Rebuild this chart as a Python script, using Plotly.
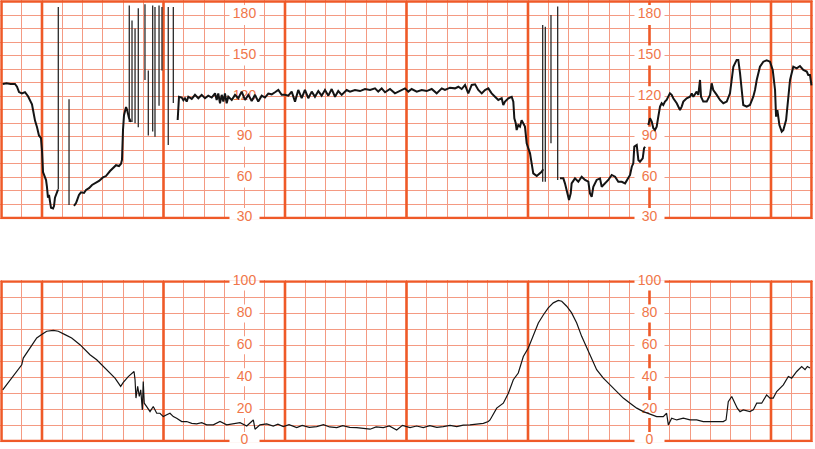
import plotly.graph_objects as go

# ---------------- data (time in seconds, 20 s per small square) ----------------
fhr_time = [
    1.2, 5.0, 9.0, 13.3, 15.3, 17.3, 20.2, 23.2, 26.2, 28.1, 30.1, 31.1, 33.1, 35.1, 37.0, 39.0,
    40.0, 41.0, 43.0, 44.0, 44.9, 45.9, 46.9, 47.9, 48.9, 50.9, 51.9, 52.8, 53.8, 54.8, 55.8,
    None,
    71.6, 73.6, 74.6, 76.5, 78.5, 81.5, 83.5, 86.4, 89.4, 93.3, 96.3, 100.2, 103.2, 107.2, 110.1,
    113.1, 116.1, 118.0, 119.0, 119.2, 120.0, 121.0, 123.0, 124.0, 124.9, 125.9, 127.9,
    None,
    174.0, 175.3, 178.0, 179.6, 181.2, 182.9, 184.5, 187.9, 191.1, 194.4, 197.7, 201.0, 204.2,
    207.6, 210.9, 212.5, 214.1, 215.8, 217.5, 219.1, 220.7, 222.4, 224.0, 227.4, 230.6, 233.9,
    237.2, 240.5, 243.8, 247.1, 250.4, 253.6, 257.0, 260.2, 263.5, 266.9, 270.1, 273.4, 276.7,
    280.0, 283.3, 286.6, 289.9, 293.1, 296.5, 299.7, 303.0, 306.4, 309.6, 312.9, 316.2, 319.5,
    322.8, 326.1, 329.4, 332.6, 336.0, 340.9, 344.2, 349.1, 354.1, 359.0, 364.0, 368.9, 372.1,
    375.5, 378.8, 383.7, 388.6, 393.6, 398.5, 401.8, 405.1, 410.1, 415.0, 419.9, 424.9, 429.8,
    434.8, 438.0, 443.0, 447.9, 451.2, 454.5, 457.8, 461.0, 464.4, 467.7, 470.9, 474.3, 477.5,
    480.8, 484.1, 487.4, 490.7, 494.0, 495.6, 497.3, 500.6, 503.9, 505.5, 506.5, 507.9, 508.8,
    510.4, 512.1, 513.7, 517.0, 518.7, 520.3, 522.0, 523.6, 525.2, 528.6, 533.5, 535.0,
    None,
    551.6, 554.9, 556.5, 558.2, 560.5, 562.2, 563.1, 566.4, 569.7, 573.0, 576.3, 579.6, 581.2,
    582.9, 584.5, 587.8, 591.1, 592.8, 596.1, 599.3, 602.7, 606.0, 609.2, 612.6, 615.9, 619.1,
    620.8, 622.5, 624.0, 625.0, 627.4, 629.0, 630.6, 633.3, 634.6, 635.6,
    None,
    638.8, 640.5, 642.2, 643.8, 645.4, 647.1, 648.7, 650.4, 652.0, 653.6, 655.3, 656.9, 660.2,
    661.9, 663.5, 666.9, 670.1, 671.8, 673.4, 676.7, 680.0, 681.7, 683.3, 686.6, 688.2, 689.9,
    690.9, 693.1, 696.5, 699.8, 701.4, 703.0, 706.4, 709.6, 712.9, 716.3, 719.5, 721.2, 722.8,
    726.1, 727.7, 729.4, 731.0, 732.6, 736.0, 739.2, 742.5, 744.2, 745.9, 749.1, 752.4, 755.7,
    759.0, 761.7, 764.0, 765.0, 766.3, 768.3, 770.6, 772.2, 774.9, 777.1, 778.8, 782.0, 785.4,
    788.6, 791.9, 795.3, 796.8, 798.5, 800.0,
]
fhr_bpm = [
    129, 129.5, 129, 129, 127, 123, 122, 123, 120, 117, 114, 110, 102, 97, 91, 89,
    80, 64, 60, 58, 53, 45, 47, 40, 37.5, 37, 39, 45, 47, 49, 51,
    None,
    39, 41, 43, 47, 49, 48.5, 50.7, 52, 54.4, 56, 57.4, 60, 61, 64.7, 67,
    69, 68.4, 70, 73, 87.6, 95, 106, 112, 110, 107.6, 104, 101,
    None,
    102.4, 119.6, 119, 117, 118.5, 116, 119.6, 118, 121, 118.5, 121, 118.5, 120.4,
    119, 122.1, 117.2, 122, 114.8, 121, 116, 122, 114.8, 119.6, 117.2, 121, 118.5,
    123.4, 117.2, 121, 116.5, 121, 116, 120.4, 119, 122, 121.4, 122.9, 124.6, 121,
    121, 120.4, 123.4, 116, 124.6, 118.5, 124.6, 118.5, 123.4, 119.6, 123.8, 120.4, 124.6,
    120.4, 125.3, 119.6, 123.8, 121, 124.6, 123.4, 124.6, 123.8, 125.3, 124.6, 125.8, 123.4,
    125.8, 122.9, 125.3, 122.1, 123.8, 125.8, 123.4, 125.3, 123.4, 124.6, 123.8, 125.3, 122.1,
    125.8, 124.6, 126.3, 125.8, 127, 125.3, 128.3, 122.1, 128.3, 128.8, 124.6, 122.1, 124.6,
    125.8, 122.1, 119.6, 117.2, 118.5, 113.5, 116, 118.5, 119.6, 116, 103.7, 100, 95,
    98.7, 97.5, 102.2, 97.5, 85.2, 81.5, 77.8, 70.4, 63, 61, 64.2, 66,
    None,
    59.3, 59.3, 55.6, 49.4, 43.3, 48.2, 55.6, 59.3, 56.8, 60.5, 58.1, 56.8, 48.2,
    45.7, 53.1, 58.1, 59.3, 53.1, 55.6, 58.1, 61.8, 60.5, 56.8, 56.8, 55.6, 59.3,
    61.8, 67.9, 70.4, 82.7, 83.9, 72.9, 71.6, 74.1, 81.5, 82.7,
    None,
    98.7, 103.7, 101.2, 96.3, 95, 97.5, 104.9, 112.3, 114.8, 113.5, 116, 117.2, 122.1,
    121, 118.5, 114.8, 109.8, 112.3, 116, 118.5, 119.6, 122.1, 119.6, 123.4, 121, 132,
    119.6, 116, 116, 121, 129.5, 124.6, 121, 117.2, 114.8, 116, 122.1, 132, 141.8,
    146.8, 146.8, 137.1, 122.1, 113.5, 112.3, 113.5, 119.6, 124.6, 132, 141.8, 145.5, 146.5,
    145.5, 139.4, 124.6, 104.9, 109.8, 98.7, 93.8, 95, 102.4, 117.2, 132, 141.8, 140.6,
    142.3, 139.4, 138.2, 135.7, 135.7, 128,
]

# signal-loss artefact strokes of the FHR pen
spike_time = [56.1, 66.7, 126.2, 128.9, 131.9, 135.1, 141.7, 145.0, 149.3, 151.6, 155.6,
              158.5, 164.7, 169.7, 534.5, 537.1, 542.7, 549.3]
spike_low = [51, 39.6, 101, 101, 100, 97, 132, 91, 94, 90, 113, 139, 84, 115, 56.8, 56.8, 85.2, 58.1]
spike_high = [186, 117.7, 187, 176, 170, 185, 188, 139, 187, 186, 187, 186, 186, 186,
              172.6, 171.4, 180, 186.2]

ua_time = [
    1.2, 5.1, 10.1, 15.0, 20.0, 21.5, 24.9, 29.8, 34.8, 39.7, 44.6, 51.2, 56.1, 62.7, 69.3,
    77.5, 82.5, 87.4, 94.0, 100.5, 107.2, 112.1, 117.7, 120.3, 125.2, 129.6, 130.9, 131.9,
    132.8, 134.5, 136.1, 137.5, 139.1, 140.0, 141.0, 143.4, 146.7, 149.9, 153.3, 156.5, 159.8,
    163.2, 166.4, 169.7, 173.0, 178.0, 182.9, 187.9, 192.8, 197.7, 202.7, 209.2, 215.8, 222.4,
    229.0, 235.6, 242.2, 248.7, 250.4, 255.3, 261.9, 268.4, 273.0, 278.3, 284.0, 291.6, 297.0,
    304.0, 311.3, 318.0, 324.0, 331.1, 337.0, 344.0, 350.8, 357.3, 364.0, 370.0, 377.1, 383.0,
    390.3, 396.0, 403.5, 410.0, 416.6, 423.0, 430.0, 436.3, 443.0, 449.6, 456.0, 462.7, 469.0,
    475.9, 480.8, 482.5, 489.1, 495.6, 500.6, 505.5, 510.4, 515.4, 520.3, 525.2, 530.2, 535.1,
    540.0, 545.0, 549.9, 553.3, 558.2, 563.1, 568.1, 573.0, 578.0, 582.9, 587.8, 594.4, 601.0,
    607.6, 614.1, 620.8, 627.4, 634.0, 640.5, 647.1, 653.6, 656.9, 658.6, 661.9, 666.9, 673.4,
    680.0, 686.6, 693.1, 699.8, 706.4, 712.9, 715.6, 717.8, 721.2, 724.4, 726.7, 729.4, 732.6,
    739.2, 742.5, 745.9, 750.8, 755.7, 759.0, 762.2, 765.6, 772.2, 777.1, 780.4, 785.4, 790.3,
    793.6, 795.9, 798.5,
]
ua_mmhg = [
    32.1, 35.2, 39.4, 43.6, 47.8, 52, 55.2, 59.3, 64.6, 66.7, 68.8, 69.4, 68.8, 66.7, 64.6,
    60.4, 57.2, 54.1, 50.9, 46.7, 42.6, 39.4, 34.2, 36.7, 40.4, 42.6, 43.6, 38.4,
    26.9, 34.2, 27.9, 32.1, 19.5, 37.3, 23.7, 21.6, 18.4, 21.6, 17.4, 17.4, 15.3,
    16.4, 17.4, 15.3, 14.3, 12.2, 12.2, 11.1, 10.7, 11.5, 10.1, 10.1, 12.2, 10.1,
    10.7, 11.5, 9.4, 13.2, 7.4, 10.1, 10.7, 9.4, 10.5, 9, 10.2, 8.4, 9.8,
    8.6, 9, 10.2, 8.8, 8.4, 9.6, 8.6, 8.4, 8, 7.4, 8.8, 8.4, 9.4,
    6.9, 9.8, 8.4, 9.4, 8.4, 9.6, 8.6, 9, 9.8, 9, 10, 10.1, 10.8,
    11.1, 12.2, 13.2, 20.6, 23.7, 30, 38.4, 42.6, 53, 58.3, 65.6, 74, 79,
    83.5, 86.6, 88.1, 87.6, 84.5, 80.3, 74, 65.6, 58.3, 50.9, 44.7, 39.4, 35.2,
    31, 26.9, 23.7, 20.6, 18.4, 17, 15.3, 15.3, 17.4, 10.1, 14.3, 13.2, 14.3,
    13.2, 13.2, 12.2, 12.2, 12.2, 12.2, 13.2, 24.7, 27.9, 23.7, 20.6, 18.4, 19.5,
    18.4, 19.5, 23.7, 23.7, 28.9, 26.9, 26.9, 31, 35.2, 40.4, 39.4, 43.6, 46.7,
    44.7, 46.7, 45.7,
]

fhr_labels = [30, 60, 90, 120, 150, 180]
ua_labels = [0, 20, 40, 60, 80, 100]
label_columns = [240, 640]

# ---------------- style / geometry ----------------
W, H = 815, 449
THICK = '#EF5A28'
THIN = '#F49A82'
TEXT = '#F0764A'
FONT = 'Liberation Sans, Arial, Helvetica, sans-serif'
T_MAX = 800
X0_PX, PX_PER_S = 1.5, 810 / 800
PAD = 1.35
BORDER_W = 2.6


def x_geom():
    left = X0_PX - PAD
    right = X0_PX + T_MAX * PX_PER_S + PAD
    return [(left - X0_PX) / PX_PER_S, (right - X0_PX) / PX_PER_S], [left / W, right / W]


def y_geom(vmin, vmax, py_min, py_max):
    k = (py_min - py_max) / (vmax - vmin)
    return ([vmin - PAD / k, vmax + PAD / k],
            [1 - (py_min + PAD) / H, 1 - (py_max - PAD) / H], k)


xr, xd = x_geom()
y1r, y1d, k1 = y_geom(30, 190, 218.0, 1.47)
y2r, y2d, k2 = y_geom(0, 100, 441.0, 281.5)

fig = go.Figure()

# scale labels (drawn beneath the traces)
for col in label_columns:
    fig.add_trace(go.Scatter(x=[col] * len(fhr_labels), y=fhr_labels,
                             text=[str(v) for v in fhr_labels], mode='text',
                             textfont=dict(family=FONT, size=14, color=TEXT),
                             cliponaxis=False, hoverinfo='skip', showlegend=False,
                             xaxis='x', yaxis='y'))
    fig.add_trace(go.Scatter(x=[col] * len(ua_labels), y=ua_labels,
                             text=[str(v) for v in ua_labels], mode='text',
                             textfont=dict(family=FONT, size=14, color=TEXT),
                             cliponaxis=False, hoverinfo='skip', showlegend=False,
                             xaxis='x2', yaxis='y2'))

# artefact strokes
sx, sy = [], []
for t, lo, hi in zip(spike_time, spike_low, spike_high):
    sx += [t, t, None]
    sy += [lo, hi, None]
fig.add_trace(go.Scatter(x=sx, y=sy, mode='lines', line=dict(color='#2a2a2a', width=1.3),
                         hoverinfo='skip', showlegend=False, xaxis='x', yaxis='y'))

fig.add_trace(go.Scatter(x=fhr_time, y=fhr_bpm, mode='lines', connectgaps=False,
                         line=dict(color='#141414', width=2.0),
                         showlegend=False, xaxis='x', yaxis='y'))
fig.add_trace(go.Scatter(x=ua_time, y=ua_mmhg, mode='lines',
                         line=dict(color='#141414', width=1.2),
                         showlegend=False, xaxis='x2', yaxis='y2'))

# heavy lines: borders and 2-minute lines, then white label boxes
shapes = []
panels = [('x', 'y', 30, 190, fhr_labels, 10 / k1),
          ('x2', 'y2', 0, 100, ua_labels, 9 / k2)]
for xa, ya, lo, hi, labs, half_h in panels:
    for t in range(40, T_MAX, 120):
        shapes.append(dict(type='line', xref=xa, yref=ya, x0=t, x1=t, y0=lo, y1=hi,
                           line=dict(color=THICK, width=BORDER_W), layer='between'))
    shapes.append(dict(type='rect', xref=xa, yref=ya, x0=0, x1=T_MAX, y0=lo, y1=hi,
                       line=dict(color=THICK, width=BORDER_W), fillcolor='rgba(0,0,0,0)',
                       layer='between'))
for xa, ya, lo, hi, labs, half_h in panels:
    half_w = 15 / PX_PER_S
    for col in label_columns:
        for v in labs:
            shapes.append(dict(type='rect', xref=xa, yref=ya, x0=col - half_w, x1=col + half_w,
                               y0=v - half_h, y1=v + half_h, fillcolor='white',
                               line=dict(width=0), layer='between'))

axis_common = dict(showticklabels=False, ticks='', zeroline=False, showline=False,
                   showgrid=True, gridcolor=THIN, gridwidth=1, fixedrange=True)

fig.update_layout(
    width=W, height=H,
    margin=dict(l=0, r=0, t=0, b=0),
    paper_bgcolor='white', plot_bgcolor='white',
    showlegend=False,
    xaxis=dict(domain=xd, range=xr, tick0=0, dtick=20, anchor='y', **axis_common),
    yaxis=dict(domain=y1d, range=y1r, tick0=0, dtick=10, anchor='x', **axis_common),
    xaxis2=dict(domain=xd, range=xr, tick0=0, dtick=20, anchor='y2', **axis_common),
    yaxis2=dict(domain=y2d, range=y2r, tick0=0, dtick=10, anchor='x2', **axis_common),
    shapes=shapes,
)

fig.write_html('out.html', config={'displayModeBar': False, 'staticPlot': True},
               post_script="document.body.style.margin='0';document.body.style.overflow='hidden';")
